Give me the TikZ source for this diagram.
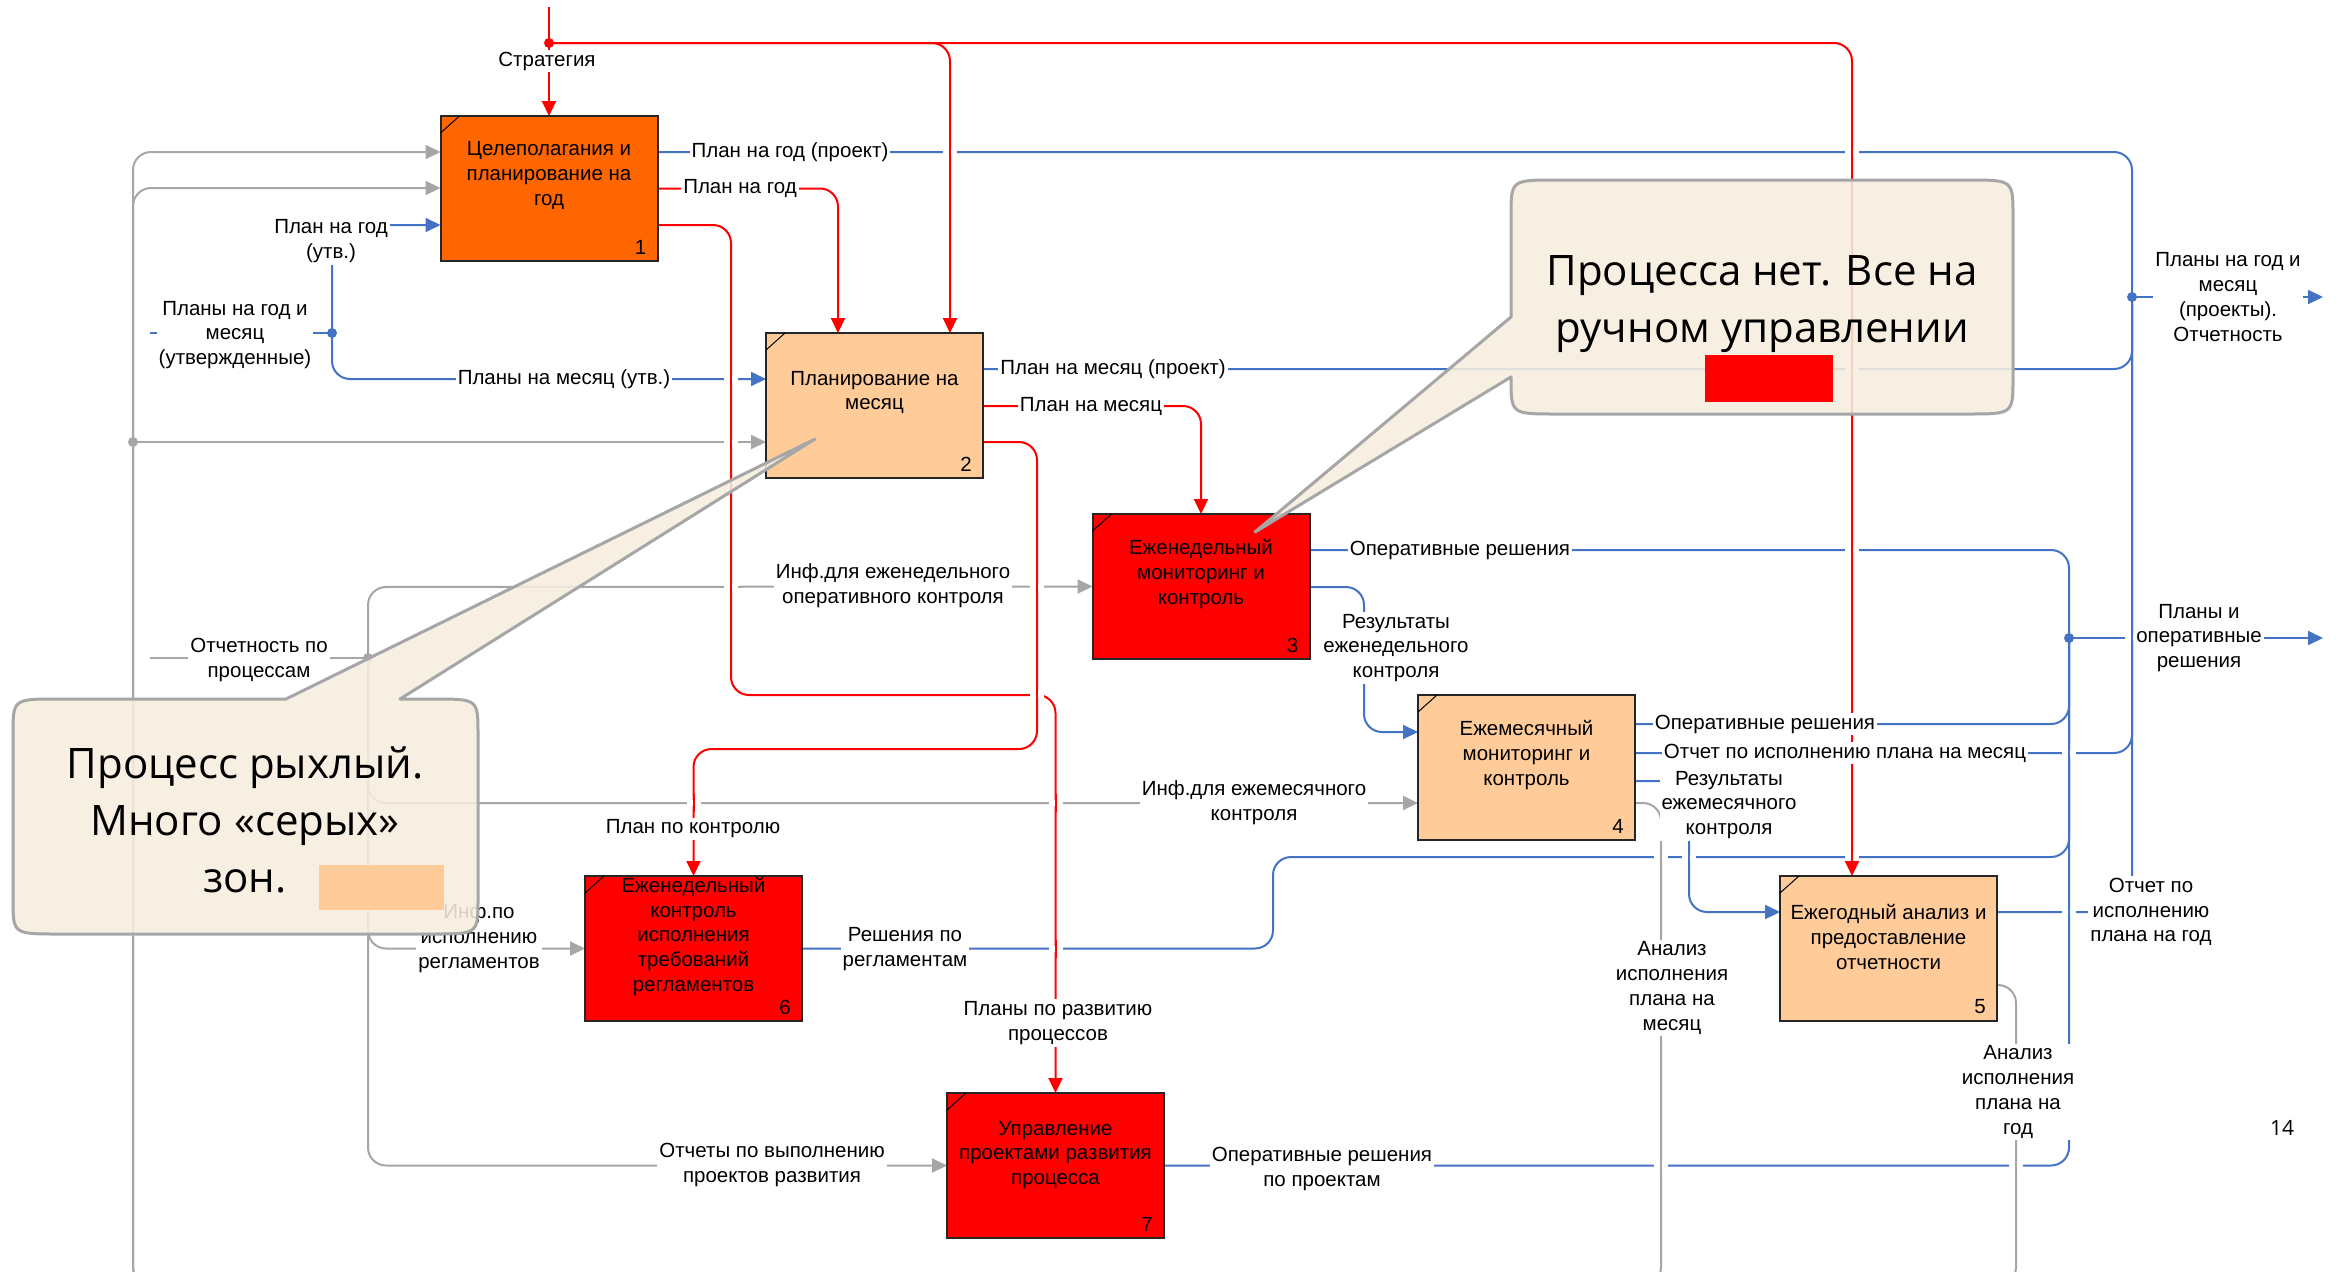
\documentclass[tikz,border=0pt]{standalone}
\usepackage{fontspec}
\setmainfont{Liberation Sans}
\newfontfamily\calloutfont{Open Sans}
\usetikzlibrary{arrows.meta,calc}

\definecolor{idefred}{HTML}{FF0000}
\definecolor{idefblue}{HTML}{4472C4}
\definecolor{idefgray}{HTML}{A6A6A6}
\definecolor{boxorange}{HTML}{FF6600}
\definecolor{boxpeach}{HTML}{FFCC99}
\definecolor{calloutfill}{HTML}{F6EDDF}
\definecolor{calloutedge}{HTML}{A6A6A6}

% break in a horizontal line where a vertical one passes over it
\newcommand\linegap[3]{%
  \fill[white] ({#1-7},{#2-3}) rectangle ({#1+7},{#2+3});
  \draw[line width=2pt,#3] (#1,{#2-9}) -- (#1,{#2+9});}

\begin{document}
\begin{tikzpicture}[
  x=1pt, y=-1pt,
  lblfont/.style={font=\fontsize{20.5}{24.7}\selectfont},
  funcbox/.style={draw=black!85, line width=2pt, minimum width=217pt,
    minimum height=145pt, inner sep=0pt, outer sep=0pt},
  boxtext/.style={lblfont, align=center, inner sep=0pt},
  boxnum/.style={lblfont, inner sep=0pt},
  lbl/.style={lblfont, align=center, fill=white, inner sep=2pt},
  conn/.style={line width=2pt, rounded corners=18pt},
  tip/.style={-{Triangle[length=15pt,width=14pt]}},
  redc/.style={conn, draw=idefred},
  bluec/.style={conn, draw=idefblue},
  grayc/.style={conn, draw=idefgray},
  redarrow/.style={redc, tip},
  bluearrow/.style={bluec, tip},
  grayarrow/.style={grayc, tip},
  calloutshape/.style={fill=calloutfill, fill opacity=0.88, draw=calloutedge,
    line width=3pt, line join=round},
  callouttext/.style={font=\calloutfont\fontsize{42}{57}\selectfont,
    align=center, inner sep=0pt},
]
\useasboundingbox (0,0) rectangle (2346,1272);
\clip (0,0) rectangle (2346,1272);
\fill[white] (0,0) rectangle (2346,1272);

% ---------- function boxes ----------
\node[funcbox, fill=boxorange] (b1) at (549,188.5) {};
\node[funcbox, fill=boxpeach]  (b2) at (874.5,405.5) {};
\node[funcbox, fill=idefred]   (b3) at (1201,586.5) {};
\node[funcbox, fill=boxpeach]  (b4) at (1526.5,767.5) {};
\node[funcbox, fill=boxpeach]  (b5) at (1888.5,948.5) {};
\node[funcbox, fill=idefred]   (b6) at (693.5,948.5) {};
\node[funcbox, fill=idefred]   (b7) at (1055.5,1165.5) {};

% ---------- junctions and free ends ----------
\coordinate (sTop) at (549,7);
\coordinate (sDot) at (549,43);
\coordinate (jA) at (2132,297);
\coordinate (outA) at (2323,297);
\coordinate (jB) at (2069,638);
\coordinate (outB) at (2323,638);
\coordinate (inC) at (150,333);
\coordinate (jC) at (332,333);
\coordinate (jD) at (133,442);
\coordinate (inE) at (150,658);
\coordinate (jE) at (368,658);

% ---------- red controls ----------
\draw[redarrow] (sTop) -- (b1.north);
\draw[redarrow] (sDot) -- (950,43) -- ($(b2.north west)+(184,0)$);
\draw[redarrow] (sDot) -- (1852,43) -- ($(b5.north west)+(72,0)$);
\draw[redarrow] (b1.east) -| ($(b2.north west)+(72,0)$);
\draw[redarrow] ($(b1.north east)+(0,109)$) -- (731,225) -- (731,695)
  -- (1055.5,695) -- (b7.north);
\draw[redarrow] ($(b2.north east)+(0,109)$) -- (1037,442) -- (1037,749)
  -- (693.5,749) -- (b6.north);
\draw[redarrow] ($(b2.north east)+(0,73)$) -| (b3.north);

% ---------- blue flows ----------
\draw[bluec] ($(b1.north east)+(0,36)$) -- (2132,152) -- (jA);
\draw[bluec] ($(b2.north east)+(0,36)$) -- (2132,369) -- (jA);
\draw[bluec] ($(b4.north east)+(0,58)$) -- (2132,753) -- (jA);
\draw[bluec] ($(b5.north east)+(0,36)$) -- (2132,912) -- (jA);
\draw[bluearrow] (jA) -- (outA);

\draw[bluec] ($(b3.north east)+(0,36)$) -- (2069,550) -- (jB);
\draw[bluec] ($(b4.north east)+(0,29)$) -- (2069,724) -- (jB);
\draw[bluec] (b6.east) -- (1273,948.5) -- (1273,857) -- (2069,857) -- (jB);
\draw[bluec] (b7.east) -- (2069,1165.5) -- (jB);
\draw[bluearrow] (jB) -- (outB);

\draw[bluearrow] ($(b3.north east)+(0,73)$) -- (1364,587) -- (1364,732)
  -- ($(b4.north west)+(0,37)$);
\draw[bluearrow] ($(b4.north east)+(0,86)$) -- (1689,781) -- (1689,912)
  -- ($(b5.north west)+(0,36)$);

\draw[bluec] (inC) -- (jC);
\draw[bluearrow] (jC) -- (332,225) -- ($(b1.north west)+(0,109)$);
\draw[bluearrow] (jC) -- (332,379) -- ($(b2.north west)+(0,46)$);

% ---------- gray feedback and inputs ----------
\draw[grayarrow] ($(b4.north east)+(0,108)$) -- (1661,803) -- (1661,1285)
  -- (133,1285) -- (133,152) -- ($(b1.north west)+(0,36)$);
\draw[grayarrow] ($(b5.north east)+(0,109)$) -- (2016,985) -- (2016,1285)
  -- (133,1285) -- (133,188) -- ($(b1.north west)+(0,72)$);
\draw[grayarrow] (jD) -- ($(b2.north west)+(0,109)$);

\draw[grayc] (inE) -- (jE);
\draw[grayarrow] (jE) -- (368,587) -- (b3.west);
\draw[grayarrow] (jE) -- (368,803) -- ($(b4.north west)+(0,108)$);
\draw[grayarrow] (jE) -- (368,948.5) -- (b6.west);
\draw[grayarrow] (jE) -- (368,1165.5) -- (b7.west);

% ---------- line crossings ----------
\linegap{950}{152}{idefred}
\linegap{1852}{152}{idefred}
\linegap{1852}{369}{idefred}
\linegap{731}{379}{idefred}
\linegap{731}{442}{idefred}
\linegap{1852}{550}{idefred}
\linegap{731}{587}{idefred}
\linegap{1037}{587}{idefred}
\linegap{1037}{695}{idefred}
\linegap{2069}{753}{idefblue}
\linegap{693.5}{803}{idefred}
\linegap{1055.5}{803}{idefred}
\linegap{1661}{857}{idefgray}
\linegap{1689}{857}{idefblue}
\linegap{1852}{857}{idefred}
\linegap{2069}{912}{idefblue}
\linegap{1055.5}{949}{idefred}
\linegap{1661}{1165.5}{idefgray}
\linegap{2016}{1165.5}{idefgray}
\linegap{2132}{638}{idefblue}

% ---------- junction dots ----------
\fill[idefred] (sDot) circle[radius=5pt];
\fill[idefblue] (jA) circle[radius=5pt];
\fill[idefblue] (jB) circle[radius=5pt];
\fill[idefblue] (jC) circle[radius=5pt];
\fill[idefgray] (jD) circle[radius=5pt];
\fill[idefgray] (jE) circle[radius=5pt];

% ---------- boxes drawn over arrow ends ----------
\foreach \b in {b1,b2,b3,b4,b5,b6,b7}{
  \draw[draw=black!85, line width=2pt] (\b.north west) rectangle (\b.south east);
  \draw[black, line width=1pt] ($(\b.north west)+(0,17)$) -- ($(\b.north west)+(19,0)$);
}
\node[boxtext] (b1t) at ([yshift=13pt]b1.center) {Целеполагания и\\планирование на\\год};
\node[boxtext] (b2t) at ([yshift=13pt]b2.center) {Планирование на\\месяц};
\node[boxtext] (b3t) at ([yshift=12.5pt]b3.center) {Еженедельный\\мониторинг и\\контроль};
\node[boxtext] (b4t) at ([yshift=12.5pt]b4.center) {Ежемесячный\\мониторинг и\\контроль};
\node[boxtext] (b5t) at ([yshift=11.5pt]b5.center) {Ежегодный анализ и\\предоставление\\отчетности};
\node[boxtext] (b6t) at ([yshift=12pt]b6.center) {Еженедельный\\контроль\\исполнения\\требований\\регламентов};
\node[boxtext] (b7t) at ([yshift=10.5pt]b7.center) {Управление\\проектами развития\\процесса};
\node[boxnum] (b1n) at ($(b1.south east)+(-17,-14)$) {1};
\node[boxnum] (b2n) at ($(b2.south east)+(-17,-14)$) {2};
\node[boxnum] (b3n) at ($(b3.south east)+(-17,-14)$) {3};
\node[boxnum] (b4n) at ($(b4.south east)+(-17,-14)$) {4};
\node[boxnum] (b5n) at ($(b5.south east)+(-17,-14)$) {5};
\node[boxnum] (b6n) at ($(b6.south east)+(-17,-14)$) {6};
\node[boxnum] (b7n) at ($(b7.south east)+(-17,-14)$) {7};

% ---------- arrow labels ----------
\node[lbl] (l1)  at (547,61)    {Стратегия};
\node[lbl] (l2)  at (790,152)   {План на год (проект)};
\node[lbl] (l3)  at (740,188)   {План на год};
\node[lbl] (l4)  at (331,241)   {План на год\\(утв.)};
\node[lbl] (l5)  at (235,335)   {Планы на год и\\месяц\\(утвержденные)};
\node[lbl] (l6)  at (564,379)   {Планы на месяц (утв.)};
\node[lbl] (l7)  at (1113,369)  {План на месяц (проект)};
\node[lbl] (l8)  at (1091,406)  {План на месяц};
\node[lbl] (l9)  at (893,586)   {Инф.для еженедельного\\оперативного контроля};
\node[lbl] (l10) at (1460,550)  {Оперативные решения};
\node[lbl] (l11) at (1396,648)  {Результаты\\еженедельного\\контроля};
\node[lbl] (l12) at (259,660)   {Отчетность по\\процессам};
\node[lbl] (l13) at (1765,724)  {Оперативные решения};
\node[lbl] (l14) at (1845,753)  {Отчет по исполнению плана на месяц};
\node[lbl] (l15) at (1729,805)  {Результаты\\ежемесячного\\контроля};
\node[lbl] (l16) at (1254,803)  {Инф.для ежемесячного\\контроля};
\node[lbl] (l17) at (693,829)   {План по контролю};
\node[lbl] (l18) at (479,938)   {Инф.по\\исполнению\\регламентов};
\node[lbl] (l19) at (905,949)   {Решения по\\регламентам};
\node[lbl] (l20) at (1672,988)  {Анализ\\исполнения\\плана на\\месяц};
\node[lbl] (l21) at (2151,912)  {Отчет по\\исполнению\\плана на год};
\node[lbl] (l22) at (2018,1092) {Анализ\\исполнения\\плана на\\год};
\node[lbl] (l23) at (1058,1023) {Планы по развитию\\процессов};
\node[lbl] (l24) at (772,1165)  {Отчеты по выполнению\\проектов развития};
\node[lbl] (l25) at (1322,1169) {Оперативные решения\\по проектам};
\node[lbl] (l26) at (2228,297)  {Планы на год и\\месяц\\(проекты).\\Отчетность};
\node[lbl] (l27) at (2199,638)  {Планы и\\оперативные\\решения};

% ---------- comment callouts ----------
\draw[calloutshape] (286,699) -- (815,439) -- (400,699) -- (433,699)
  .. controls (478,699) .. (478,734) -- (478,899)
  .. controls (478,934) .. (433,934) -- (58,934)
  .. controls (13,934) .. (13,899) -- (13,734)
  .. controls (13,699) .. (58,699) -- cycle;
\node[callouttext] (c1t) at (245,820) {Процесс рыхлый.\\Много «серых»\\зон.};
\fill[boxpeach] (319,865) rectangle (444,910);

\draw[calloutshape] (1511,317) -- (1255,532) -- (1511,377) -- (1511,378)
  .. controls (1511,414) .. (1556,414) -- (1968,414)
  .. controls (2013,414) .. (2013,378) -- (2013,216)
  .. controls (2013,180) .. (1968,180) -- (1556,180)
  .. controls (1511,180) .. (1511,216) -- cycle;
\node[callouttext] (c2t) at (1762,304) {Процесса нет. Все на\\ручном управлении};
\fill[idefred] (1705,355) rectangle (1833,402);

% ---------- page number ----------
\node[font=\calloutfont\fontsize{21}{26}\selectfont, inner sep=0pt] (pg) at (2282,1128) {14};
\end{tikzpicture}
\end{document}
